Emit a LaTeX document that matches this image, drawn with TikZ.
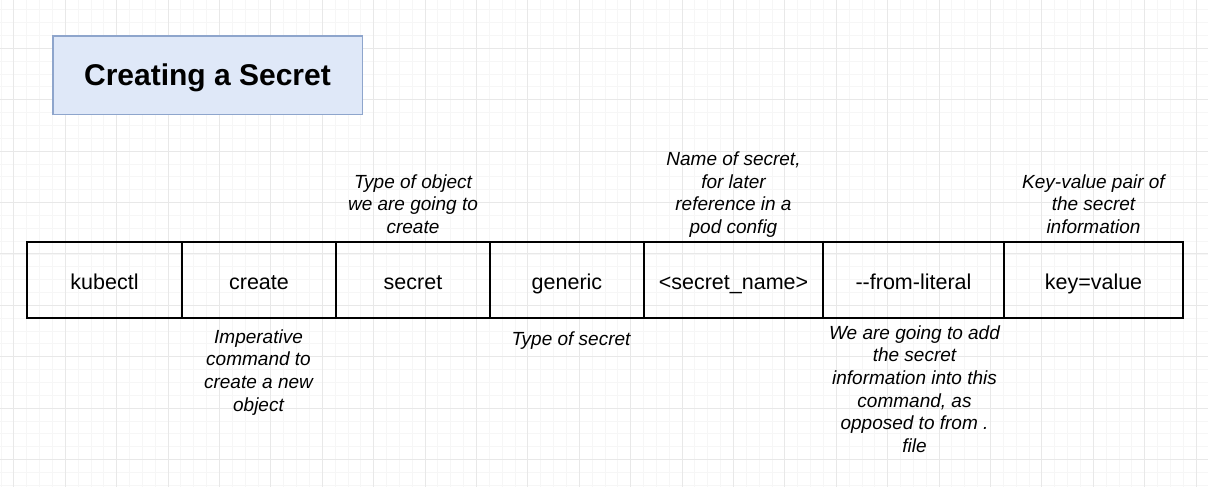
\documentclass[tikz,border=0pt]{standalone}
\usepackage{fontspec}
\setmainfont{Liberation Sans}
\definecolor{gridminor}{HTML}{F6F6F6}
\definecolor{gridmajor}{HTML}{E8E8E8}
\definecolor{titlefill}{HTML}{DFE8F8}
\definecolor{titledraw}{HTML}{8EA5CC}
\begin{document}
\begin{tikzpicture}[x=1pt,y=-1pt,
  cell/.style={draw=black, line width=1.6pt, minimum width=#1, minimum height=76pt,
    inner sep=0pt, outer sep=0pt, anchor=west,
    font=\fontsize{21.5}{24}\selectfont, text height=19pt, text depth=0pt},
  note/.style={font=\fontsize{19}{22.6}\selectfont\itshape, align=center,
    inner sep=0pt, anchor=base},
  titlebox/.style={draw=titledraw, fill=titlefill, line width=1.6pt,
    minimum width=309.6pt, minimum height=78.3pt, inner sep=0pt,
    font=\fontsize{30}{34}\selectfont\bfseries, text height=21.5pt, text depth=0pt},
  minorline/.style={draw=gridminor, line width=0.8pt},
  majorline/.style={draw=gridmajor, line width=0.9pt}]
\useasboundingbox (0,0) rectangle (1208,487);
\fill[white] (0,0) rectangle (1208,487);
% grid
\foreach \i in {0,...,93} {\draw[minorline] (0.95+\i*12.85,0) -- (0.95+\i*12.85,487);}
\foreach \i in {0,...,37} {\draw[minorline] (0,9.75+\i*12.85) -- (1208,9.75+\i*12.85);}
\foreach \i in {0,...,23} {\draw[majorline] (13.8+\i*51.4,0) -- (13.8+\i*51.4,487);}
\foreach \i in {0,...,9} {\draw[majorline] (0,-3.1+\i*51.4) -- (1208,-3.1+\i*51.4);}
% title
\node[titlebox] (title) at (207.5,75.2) {Creating a Secret};
% cells
\node[cell=155pt] (kubectl) at (27,280) {kubectl};
\node[cell=154pt] (create) at (kubectl.east) {create};
\node[cell=154pt] (secret) at (create.east) {secret};
\node[cell=154pt] (generic) at (secret.east) {generic};
\node[cell=179pt] (name) at (generic.east) {<secret\_name>};
\node[cell=181pt] (literal) at (name.east) {-\kern0pt-from-literal};
\node[cell=179pt] (keyvalue) at (literal.east) {key=value};
% annotations above (base = last line baseline)
\node[note] (nsecret) at (413,233.5) {Type of object\\we are going to\\create};
\node[note] (nname) at (733.5,233.5) {Name of secret,\\for later\\reference in a\\pod config};
\node[note] (nkey) at (1093.5,233.5) {Key-value pair of\\the secret\\information};
% annotations below
\node[note] (ncreate) at (258.5,411.1) {Imperative\\command to\\create a new\\object};
\node[note] (ngeneric) at (571,345) {Type of secret};
\node[note] (nliteral) at (914.5,452.3) {We are going to add\\the secret\\information into this\\command, as\\opposed to from .\\file};
\end{tikzpicture}
\end{document}
